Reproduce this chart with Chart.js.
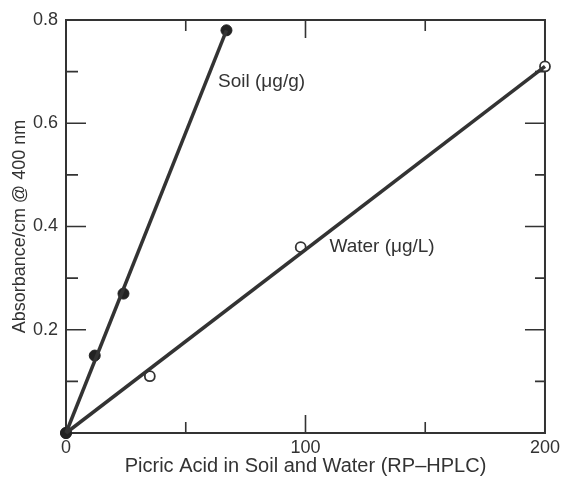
<!DOCTYPE html>
<html><head><meta charset="utf-8">
<script src="https://cdn.jsdelivr.net/npm/chart.js@4/dist/chart.umd.min.js"></script>
<style>html,body{margin:0;padding:0;background:#fff}#wrap{width:564px;height:478px}</style>
</head><body><div id="wrap"><canvas id="c" width="564" height="478"></canvas></div>
<script>
// ---- data ----
const soilX = [0, 12, 24, 67];
const soilY = [0, 0.15, 0.27, 0.78];
const waterX = [0, 35, 98, 200];
const waterY = [0, 0.11, 0.36, 0.71];
const soilFitX = [0, 67];
const soilFitY = [0, 0.78];
const waterFitX = [0, 200];
const waterFitY = [0, 0.71];
const seriesNames = ['Soil (\u03bcg/g)', 'Water (\u03bcg/L)'];
const xTickLabels = ['0', '100', '200'];
const xTickValues = [0, 100, 200];
const yTickLabels = ['0.2', '0.4', '0.6', '0.8'];
const yTickValues = [0.2, 0.4, 0.6, 0.8];
const xAxisTitle = 'Picric Acid in Soil and Water (RP\u2013HPLC)';
const yAxisTitle = 'Absorbance/cm @ 400 nm';
// annotation anchors (data units)
const noteX = [63.5, 110];
const noteY = [0.68, 0.36];

const INK = '#333';
const FONT = '"Liberation Sans", Arial, Helvetica, sans-serif';
const pts = (xs, ys) => xs.map((x, i) => ({x, y: ys[i]}));

const framePlugin = {
  id: 'frame',
  beforeDatasetsDraw(chart) {
    const {ctx, chartArea: a, scales: {x, y}} = chart;
    ctx.save();
    ctx.strokeStyle = INK;
    ctx.lineWidth = 2;
    ctx.strokeRect(a.left, a.top, a.right - a.left, a.bottom - a.top);
    ctx.lineWidth = 1.6;
    ctx.beginPath();
    [1,2,3,4,5,6,7].forEach(k => {
      const major = k % 2 === 0;
      const py = y.getPixelForValue(k / 10);
      const lenL = major ? 20 : 12, lenR = major ? 20 : 10;
      ctx.moveTo(a.left, py); ctx.lineTo(a.left + lenL, py);
      ctx.moveTo(a.right, py); ctx.lineTo(a.right - lenR, py);
    });
    [50,100,150].forEach(v => {
      const px = x.getPixelForValue(v);
      const len = v === 100 ? 18 : 11;
      ctx.moveTo(px, a.bottom); ctx.lineTo(px, a.bottom - len);
      ctx.moveTo(px, a.top); ctx.lineTo(px, a.top + len);
    });
    ctx.stroke();
    ctx.restore();
  },
  afterDatasetsDraw(chart) {
    const {ctx, scales: {x, y}} = chart;
    ctx.save();
    ctx.fillStyle = INK;
    ctx.font = '19px ' + FONT;
    ctx.textBaseline = 'middle';
    ctx.textAlign = 'left';
    seriesNames.forEach((t, i) => ctx.fillText(t, x.getPixelForValue(noteX[i]), y.getPixelForValue(noteY[i])));
    ctx.restore();
  }
};

new Chart(document.getElementById('c'), {
  type: 'scatter',
  data: {
    datasets: [
      {label: 'soil fit', data: pts(soilFitX, soilFitY), showLine: true, pointRadius: 0, borderColor: INK, borderWidth: 3.5, clip: false},
      {label: 'water fit', data: pts(waterFitX, waterFitY), showLine: true, pointRadius: 0, borderColor: INK, borderWidth: 3.5, clip: false},
      {label: seriesNames[0], data: pts(soilX, soilY), pointRadius: 5.5, backgroundColor: '#222', borderColor: '#222', borderWidth: 1, clip: false},
      {label: seriesNames[1], data: pts(waterX, waterY), pointRadius: 5, backgroundColor: '#fff', borderColor: INK, borderWidth: 1.8, clip: false}
    ]
  },
  options: {
    responsive: false, animation: false, devicePixelRatio: 1,
    layout: {padding: {left: 0, right: 19, top: 20, bottom: 0}},
    plugins: {legend: {display: false}, tooltip: {enabled: false}},
    scales: {
      x: {
        type: 'linear', min: 0, max: 200,
        grid: {display: false, drawTicks: false}, border: {display: false},
        afterBuildTicks: s => { s.ticks = xTickValues.map(v => ({value: v})); },
        ticks: {autoSkip: false, maxRotation: 0, padding: 4, color: INK, font: {family: FONT, size: 18},
          callback: v => { const i = xTickValues.indexOf(v); return i >= 0 ? xTickLabels[i] : ''; }},
        title: {display: true, text: xAxisTitle, color: INK, font: {family: FONT, size: 20}, padding: {top: 0, bottom: 0}},
        afterFit: s => { s.height = 45; }
      },
      y: {
        type: 'linear', min: 0, max: 0.8,
        grid: {display: false, drawTicks: false}, border: {display: false},
        afterBuildTicks: s => { s.ticks = yTickValues.map(v => ({value: v})); },
        ticks: {autoSkip: false, padding: 8, color: INK, font: {family: FONT, size: 18},
          callback: v => { const i = yTickValues.findIndex(t => Math.abs(t - v) < 1e-9); return i >= 0 ? yTickLabels[i] : ''; }},
        title: {display: true, text: yAxisTitle, color: INK, font: {family: FONT, size: 18}, padding: {top: 9, bottom: 0}},
        afterFit: s => { s.width = 66; }
      }
    }
  },
  plugins: [framePlugin]
});
</script></body></html>
